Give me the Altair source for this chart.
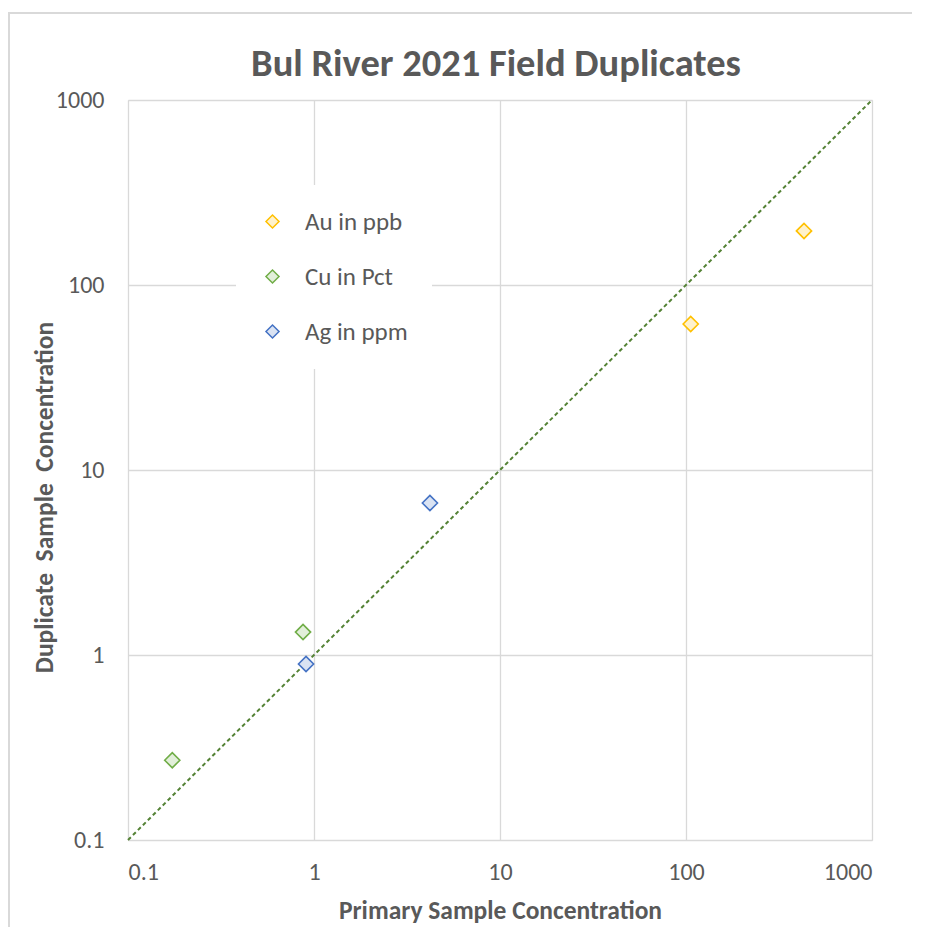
import altair as alt
import pandas as pd

elements = ["Au in ppb", "Au in ppb", "Cu in Pct", "Cu in Pct", "Ag in ppm", "Ag in ppm"]
primary = [106, 431, 0.173, 0.873, 0.906, 4.2]
duplicate = [61.5, 196, 0.270, 1.33, 0.894, 6.63]

legend_order = ["Au in ppb", "Cu in Pct", "Ag in ppm"]
stroke_colors = ["#FFC000", "#70AD47", "#4472C4"]
fill_colors = ["#FFF2CC", "#E2EFDA", "#DAE3F3"]

line_x = [0.1, 1000]
line_y = [0.1, 1000]

ticks = [0.1, 1, 10, 100, 1000]

FONT = "Carlito, Calibri, Lato, sans-serif"
GRAY = "#595959"

pts = pd.DataFrame({"elem": elements, "primary": primary, "duplicate": duplicate})
ln = pd.DataFrame({"x": line_x, "y": line_y})

xscale = alt.Scale(type="log", domain=[0.1, 1000], nice=False)
yscale = alt.Scale(type="log", domain=[0.1, 1000], nice=False)

xaxis = alt.Axis(values=ticks, format="~g", title="Primary Sample Concentration",
                 grid=True, gridColor="#D9D9D9", gridWidth=1.3, domain=False, ticks=False,
                 labelFont=FONT, labelFontSize=24, labelColor=GRAY, labelPadding=20,
                 titleFont=FONT, titleFontSize=25.5, titleFontWeight="bold", titleColor=GRAY,
                 titlePadding=14)
yaxis = alt.Axis(values=ticks, format="~g", title="Duplicate\u00a0 Sample\u00a0 Concentration",
                 grid=True, gridColor="#D9D9D9", gridWidth=1.3, domain=False, ticks=False,
                 labelFont=FONT, labelFontSize=24, labelColor=GRAY, labelPadding=24,
                 titleFont=FONT, titleFontSize=25.5, titleFontWeight="bold", titleColor=GRAY,
                 titlePadding=-2, titleY=397)

diag = alt.Chart(ln).mark_line(color="#548235", strokeWidth=2, strokeDash=[4, 3]).encode(
    x=alt.X("x:Q", scale=xscale, axis=xaxis),
    y=alt.Y("y:Q", scale=yscale, axis=yaxis),
)

legend = alt.Legend(title=None, orient="none", legendX=108, legendY=85,
                    fillColor="white", padding=24, rowPadding=29,
                    symbolType="diamond", symbolSize=170, symbolStrokeWidth=1.5,
                    labelFont=FONT, labelFontSize=25, labelColor=GRAY, labelOffset=20)

points = alt.Chart(pts).mark_point(shape="diamond", size=230, strokeWidth=1.6, opacity=1, filled=False).encode(
    x=alt.X("primary:Q", scale=xscale),
    y=alt.Y("duplicate:Q", scale=yscale),
    stroke=alt.Stroke("elem:N", scale=alt.Scale(domain=legend_order, range=stroke_colors), legend=legend),
    fill=alt.Fill("elem:N", scale=alt.Scale(domain=legend_order, range=fill_colors), legend=legend),
)

border_top = alt.Chart(pts).mark_rule(color="#D9D9D9", strokeWidth=1.5).encode(
    x=alt.value(-120), x2=alt.value(800), y=alt.value(-87)
)
border_left = alt.Chart(pts).mark_rule(color="#D9D9D9", strokeWidth=1.5).encode(
    x=alt.value(-119), y=alt.value(-87), y2=alt.value(840)
)

chart = alt.layer(diag, points, border_top, border_left).properties(
    width=744, height=740,
    title=alt.Title("Bul River 2021 Field Duplicates", font=FONT, fontSize=38.5, fontWeight="bold",
                    color=GRAY, anchor="middle", frame="group", offset=0, dy=72, dx=-4),
    autosize=alt.AutoSizeParams(type="none"),
    padding={"left": 120, "top": 92, "right": 40, "bottom": 87},
).configure_view(stroke=None).configure(background="white")

chart.save("out.html", embed_options={"renderer": "svg", "actions": False})
